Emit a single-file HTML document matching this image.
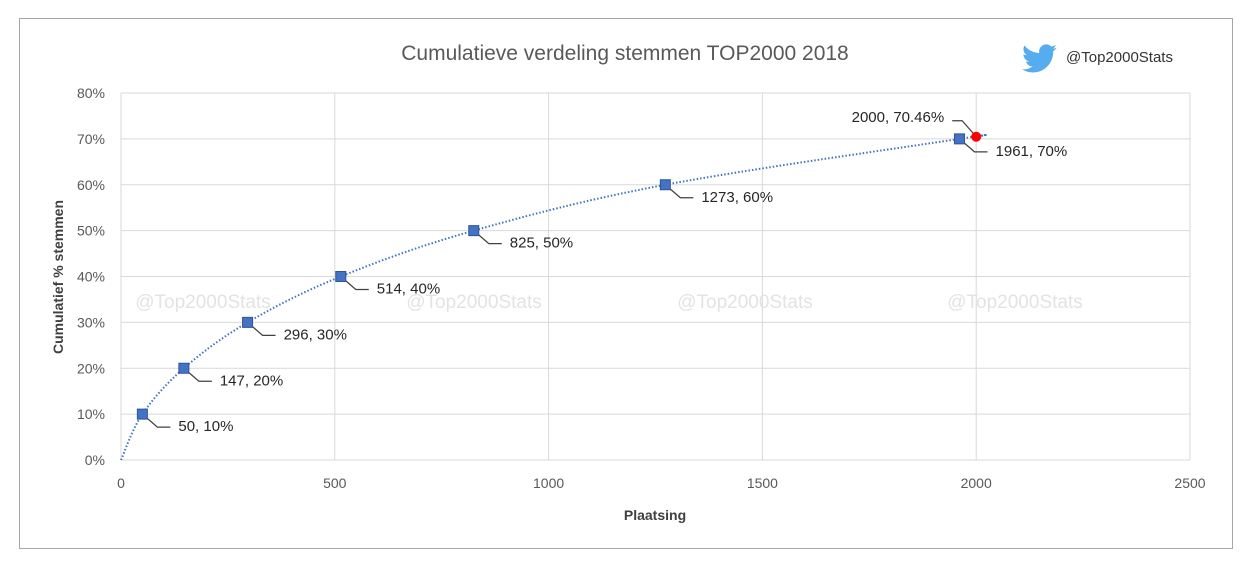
<!DOCTYPE html>
<html><head><meta charset="utf-8"><style>
body{margin:0;background:#fff;width:1254px;height:568px;overflow:hidden;font-family:"Liberation Sans",sans-serif}
svg text{font-family:"Liberation Sans",sans-serif}
</style></head><body>
<svg id="chart" width="1254" height="568" xmlns="http://www.w3.org/2000/svg">
<rect x="19.5" y="18.5" width="1213" height="530" fill="#fff" stroke="#a6a6a6"/>
<text x="625" y="60" font-size="21" fill="#595959" text-anchor="middle">Cumulatieve verdeling stemmen TOP2000 2018</text>
<g transform="translate(1022,41) scale(1.45)">
<path fill="#55acee" d="M24 4.6c-.9.4-1.8.6-2.8.8 1-.6 1.8-1.6 2.2-2.7-1 .6-2 1-3.1 1.2-.9-1-2.2-1.6-3.6-1.6-2.700 0-4.9 2.2-4.9 4.9 0 .4 0 .8.1 1.1C7.7 8.1 4.1 6.1 1.7 3.1c-.4.7-.7 1.6-.7 2.5 0 1.7.9 3.2 2.2 4.1-.8 0-1.6-.2-2.2-.6v.1c0 2.4 1.7 4.4 3.9 4.8-.4.1-.8.2-1.300.2-.3 0-.6 0-.9-.1.6 2 2.4 3.4 4.6 3.4-1.7 1.3-3.8 2.1-6.1 2.1-.4 0-.8 0-1.2-.1 2.2 1.4 4.8 2.2 7.5 2.2 9.1 0 14-7.5 14-14v-.6c1-.7 1.8-1.6 2.5-2.5z"/>
</g>
<text x="1066" y="62" font-size="15" fill="#333">@Top2000Stats</text>
<g id="grid"></g><g id="wm"></g><g id="axes"></g><g id="series"></g>
<text transform="translate(63,277) rotate(-90)" font-size="14" font-weight="bold" fill="#404040" text-anchor="middle">Cumulatief % stemmen</text>
<text x="655" y="520" font-size="14" font-weight="bold" fill="#404040" text-anchor="middle">Plaatsing</text>
</svg>
<script>
const xTicks=[0,500,1000,1500,2000,2500];
const yTicks=[0,10,20,30,40,50,60,70,80];
const placements=[50,147,296,514,825,1273,1961];
const percents=[10,20,30,40,50,60,70];
const finalPlacement=2000;
const finalPercent=70.46;
const NS="http://www.w3.org/2000/svg";
const X=v=>121+v*(1190-121)/2500;
const Y=v=>460-v*(460-93)/80;
function mk(tag,attrs,parent,txt){const e=document.createElementNS(NS,tag);for(const k in attrs)e.setAttribute(k,attrs[k]);if(txt!==undefined)e.textContent=txt;document.getElementById(parent).appendChild(e);return e;}
xTicks.forEach(t=>{
 const l=mk('line',{x1:X(t),x2:X(t),y1:Y(0),y2:Y(80),stroke:'#d9d9d9'},'grid');
 
 
 const tx=mk('text',{x:X(t),y:488,'font-size':14,fill:'#595959','text-anchor':'middle'},'axes',t);
 
 
});
yTicks.forEach(t=>{
 const l=mk('line',{x1:X(0),x2:X(2500),y1:Y(t),y2:Y(t),stroke:'#d9d9d9'},'grid');
 
 
 const tx=mk('text',{x:105,y:Y(t)+5,'font-size':14,fill:'#595959','text-anchor':'end'},'axes',t+'%');
 
 
});
[203,474,745,1015].forEach(cx=>{
 const w=mk('text',{x:cx,y:308,'font-size':19,fill:'#e3e3e3','text-anchor':'middle'},'wm','@Top2000Stats');
 
 
});
const pts=[[0,0]].concat(placements.map((p,i)=>[p,percents[i]])).concat([[finalPlacement,finalPercent]]).map(p=>[X(p[0]),Y(p[1])]);
let d='M'+pts[0][0]+','+pts[0][1];
for(let i=0;i<pts.length-1;i++){
 const p0=pts[Math.max(0,i-1)],p1=pts[i],p2=pts[i+1],p3=pts[Math.min(pts.length-1,i+2)];
 d+=' C'+(p1[0]+(p2[0]-p0[0])/6)+','+(p1[1]+(p2[1]-p0[1])/6)+' '+(p2[0]-(p3[0]-p1[0])/6)+','+(p2[1]-(p3[1]-p1[1])/6)+' '+p2[0]+','+p2[1];
}
const c=mk('path',{d:d,fill:'none',stroke:'#4472c4','stroke-width':2,'stroke-dasharray':'1.5 2'},'series');


placements.forEach((p,i)=>{
 const x=X(p),y=Y(percents[i]);
 const ld=mk('path',{d:`M${x},${y} L${x+15},${y+13} L${x+28},${y+13}`,fill:'none',stroke:'#404040','stroke-width':1.2},'series');
 
 
 const m=mk('rect',{x:x-5,y:y-5,width:10,height:10,fill:'#4472c4',stroke:'#2f5597'},'series');
 
 
 const t=mk('text',{x:x+36,y:y+17,'font-size':15,fill:'#262626'},'series',p+', '+percents[i]+'%');
 
 
});
const fx=X(finalPlacement),fy=Y(finalPercent);
const fl=mk('path',{d:`M${fx},${fy} L${fx-14},${fy-16} L${fx-24},${fy-16}`,fill:'none',stroke:'#404040','stroke-width':1.2},'series');


const fp=mk('circle',{cx:fx,cy:fy,r:5,fill:'#ff0000'},'series');


const ft=mk('text',{x:fx-32,y:fy-15,'font-size':15,fill:'#262626','text-anchor':'end'},'series',finalPlacement+', '+finalPercent+'%');


</script>
</body></html>
